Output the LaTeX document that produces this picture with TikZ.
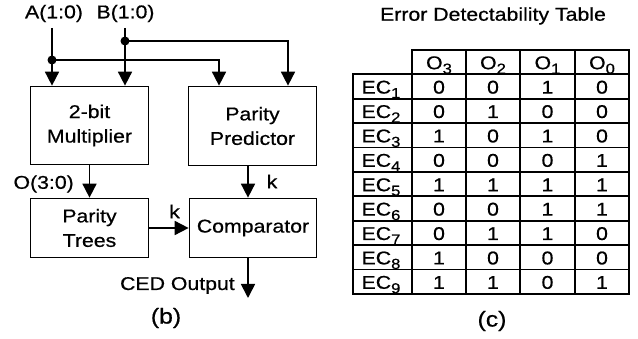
\documentclass[tikz,border=0pt]{standalone}
\usepackage{fontspec}
\setmainfont{Liberation Sans}[FakeStretch=1.15,FakeBold=0.6]
\usetikzlibrary{arrows.meta}
\newcommand\sbx[1]{\raisebox{-4.5pt}{\fontsize{14.5}{14.5}\selectfont#1}}
\tikzset{
  blk/.style={draw, line width=1.7pt, inner sep=0pt, align=center},
  wire/.style={line width=1.7pt},
  arr/.style={wire, -{Triangle[length=14pt,width=14pt]}},
  jdot/.style={circle, fill, inner sep=0pt, minimum size=9pt},
  lbl/.style={inner sep=0pt},
  tline/.style={line width=1.8pt},
  cell/.style={inner sep=0pt, anchor=base},
}
\begin{document}
\begin{tikzpicture}[x=1pt,y=-1pt,font=\fontsize{18.5}{24.5}\selectfont]
\fill[white] (0,0) rectangle (638,339);
\useasboundingbox (0,0) rectangle (638,339);
% blocks
\node[blk, minimum width=118pt, minimum height=78pt] (mult) at (89.5,125.5) {2-bit\\Multiplier};
\node[blk, minimum width=128pt, minimum height=79pt] (pred) at (252.5,126) {Parity\\Predictor};
\node[blk, minimum width=118pt, minimum height=59pt] (trees) at (89.5,228) {Parity\\Trees};
\node[blk, minimum width=127pt, minimum height=59pt] (comp) at (253,228) {Comparator};
% inputs
\node[lbl, anchor=base] (alab) at (54,18.3) {A(1:0)};
\node[lbl, anchor=base] (blab) at (125.5,18.3) {B(1:0)};
\coordinate (atop) at (52,28);
\coordinate (btop) at (125,28);
\coordinate (pa) at (219,0);
\coordinate (pb) at (288,0);
\coordinate (pc) at (248,0);
\coordinate (outp) at (248,298);
\node[jdot] (adot) at (52,60) {};
\node[jdot] (bdot) at (125,41) {};
\draw[arr] (atop) -- (atop |- mult.north);
\draw[arr] (btop) -- (btop |- mult.north);
\draw[arr] (adot.center) -| (pa |- pred.north);
\draw[arr] (bdot.center) -| (pb |- pred.north);
% internal
\draw[arr] (mult) -- (trees);
\node[lbl, anchor=east] (olab) at (74,184) {O(3:0)};
\draw[arr] (pc |- pred.south) -- (pc |- comp.north);
\node[lbl] (k1) at (272,181.5) {k};
\draw[arr] (trees) -- (comp);
\node[lbl] (k2) at (174.5,211.5) {k};
\draw[arr] (outp |- comp.south) -- (outp);
\node[lbl, anchor=base east] (ced) at (235,290) {CED Output};
\node[lbl, font=\fontsize{21.5}{24}\selectfont] (capb) at (166,318) {(b)};
% table
\node[lbl, anchor=base] (title) at (493,20.7) {Error Detectability Table};
\draw[tline] (411.1,50) -- (629.9,50);
\foreach \i in {1,...,10} {
  \draw[tline] (352.1,{50+24.4*\i}) -- (629.9,{50+24.4*\i});
}
\draw[tline] (353,74.4) -- (353,294);
\foreach \x in {412,466,520,575,629} {
  \draw[tline] (\x,50) -- (\x,294);
}
\node[cell] (h3) at (439,69.2) {O\sbx{3}};
\node[cell] (h2) at (493,69.2) {O\sbx{2}};
\node[cell] (h1) at (547.5,69.2) {O\sbx{1}};
\node[cell] (h0) at (602,69.2) {O\sbx{0}};
\foreach \r/\a/\b/\c/\d in {1/0/0/1/0, 2/0/1/0/0, 3/1/0/1/0, 4/0/0/0/1, 5/1/1/1/1, 6/0/0/1/1, 7/0/1/1/0, 8/1/0/0/0, 9/1/1/0/1} {
  \pgfmathsetmacro\yy{50+24.4*(\r+0.5)+7}
  \node[cell] (ec\r) at (381,\yy) {EC\sbx{\r}};
  \node[cell] (v\r-3) at (439,\yy) {\a};
  \node[cell] (v\r-2) at (493,\yy) {\b};
  \node[cell] (v\r-1) at (547.5,\yy) {\c};
  \node[cell] (v\r-0) at (602,\yy) {\d};
}
\node[lbl, font=\fontsize{21.5}{24}\selectfont] (capc) at (492,321) {(c)};
\end{tikzpicture}
\end{document}
